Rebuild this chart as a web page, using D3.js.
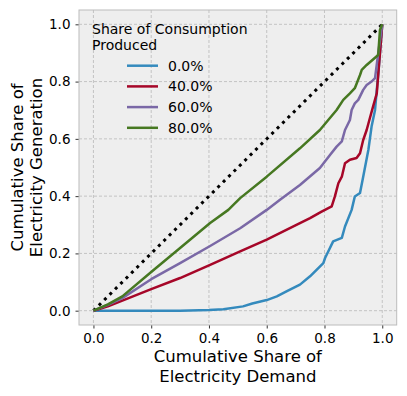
<!DOCTYPE html>
<html>
<head>
<meta charset="UTF-8">
<script src="https://d3js.org/d3.v7.min.js"></script>
<style>
  body { margin: 0; background: #fff; }
  svg { display: block; font-family: "DejaVu Sans", sans-serif; }
</style>
</head>
<body>
<div id="chart"></div>
<script>
// series: cumulative demand share (x) vs cumulative generation share (y)
const seriesNames = ["0.0%", "40.0%", "60.0%", "80.0%"];
const seriesColors = ["#348ABD", "#A60628", "#7A68A6", "#467821"];

const blueX = [0, 0.3, 0.4, 0.45, 0.518, 0.55, 0.6, 0.635, 0.67, 0.715, 0.75, 0.796, 0.802, 0.83, 0.86, 0.871, 0.894, 0.905, 0.923, 0.934, 0.952, 0.963, 0.975, 0.988, 1.0];
const blueY = [0, 0, 0.002, 0.005, 0.015, 0.025, 0.037, 0.05, 0.068, 0.091, 0.12, 0.166, 0.184, 0.242, 0.254, 0.294, 0.352, 0.399, 0.411, 0.468, 0.562, 0.643, 0.701, 0.85, 1.0];

const redX = [0, 0.05, 0.1, 0.2, 0.3, 0.404, 0.508, 0.6, 0.715, 0.75, 0.79, 0.825, 0.836, 0.848, 0.86, 0.871, 0.888, 0.911, 0.923, 0.934, 0.946, 0.957, 0.965, 0.981, 0.992, 1.0];
const redY = [0, 0.015, 0.035, 0.075, 0.114, 0.16, 0.207, 0.248, 0.306, 0.323, 0.346, 0.364, 0.399, 0.445, 0.468, 0.515, 0.527, 0.533, 0.55, 0.596, 0.631, 0.672, 0.701, 0.759, 0.899, 1.0];

const purpleX = [0, 0.05, 0.1, 0.2, 0.3, 0.404, 0.508, 0.6, 0.646, 0.715, 0.784, 0.819, 0.842, 0.86, 0.871, 0.888, 0.894, 0.905, 0.917, 0.934, 0.946, 0.963, 0.975, 0.986, 1.0];
const purpleY = [0, 0.02, 0.044, 0.11, 0.166, 0.226, 0.288, 0.352, 0.387, 0.439, 0.498, 0.544, 0.573, 0.591, 0.631, 0.666, 0.701, 0.724, 0.736, 0.771, 0.788, 0.8, 0.812, 0.899, 1.0];

const greenX = [0, 0.05, 0.1, 0.2, 0.3, 0.404, 0.467, 0.508, 0.6, 0.715, 0.784, 0.842, 0.865, 0.888, 0.905, 0.923, 0.929, 0.946, 0.986, 0.992, 1.0];
const greenY = [0, 0.022, 0.05, 0.135, 0.219, 0.306, 0.352, 0.393, 0.468, 0.567, 0.631, 0.701, 0.736, 0.759, 0.777, 0.823, 0.841, 0.858, 0.893, 0.98, 1.0];

const diagonal = [0, 1];
const tickValues = [0, 0.2, 0.4, 0.6, 0.8, 1.0];

const seriesX = [blueX, redX, purpleX, greenX];
const seriesY = [blueY, redY, purpleY, greenY];

const width = 407, height = 396;
const margin = { left: 79, top: 10, right: 10.3, bottom: 71 };

const svg = d3.select("#chart").append("svg")
  .attr("width", width)
  .attr("height", height);

const x = d3.scaleLinear().domain([-0.05, 1.05]).range([margin.left, width - margin.right]);
const y = d3.scaleLinear().domain([-0.05, 1.05]).range([height - margin.bottom, margin.top]);

// plot background
svg.append("rect")
  .attr("x", margin.left).attr("y", margin.top)
  .attr("width", x.range()[1] - x.range()[0])
  .attr("height", y.range()[0] - y.range()[1])
  .attr("fill", "#eeeeee");

// grid
const grid = svg.append("g");
tickValues.forEach(t => {
  grid.append("line")
    .attr("x1", x(t)).attr("x2", x(t))
    .attr("y1", y.range()[1]).attr("y2", y.range()[0]);
  grid.append("line")
    .attr("y1", y(t)).attr("y2", y(t))
    .attr("x1", x.range()[0]).attr("x2", x.range()[1]);
});
grid.selectAll("line")
  .attr("stroke", "#b2b2b2")
  .attr("stroke-width", 0.7)
  .attr("stroke-dasharray", "3,2");

// axes
const xAxis = svg.append("g")
  .attr("transform", `translate(0,${y.range()[0]})`)
  .call(d3.axisBottom(x).tickValues(tickValues).tickFormat(d3.format(".1f")).tickSize(3.5).tickPadding(5));
const yAxis = svg.append("g")
  .attr("transform", `translate(${x.range()[0]},0)`)
  .call(d3.axisLeft(y).tickValues(tickValues).tickFormat(d3.format(".1f")).tickSize(3.5).tickPadding(5));

[xAxis, yAxis].forEach(a => {
  a.select(".domain").remove();
  a.selectAll(".tick line").attr("stroke", "#000").attr("stroke-width", 0.8);
  a.selectAll(".tick text")
    .attr("fill", "#000")
    .style("font-family", "DejaVu Sans")
    .style("font-size", "13.5px");
});

// frame
svg.append("rect")
  .attr("x", margin.left).attr("y", margin.top)
  .attr("width", x.range()[1] - x.range()[0])
  .attr("height", y.range()[0] - y.range()[1])
  .attr("fill", "none")
  .attr("stroke", "#bcbcbc")
  .attr("stroke-width", 1);

// diagonal reference
svg.append("line")
  .attr("x1", x(diagonal[0])).attr("y1", y(diagonal[0]))
  .attr("x2", x(diagonal[1])).attr("y2", y(diagonal[1]))
  .attr("stroke", "#000")
  .attr("stroke-width", 3)
  .attr("stroke-dasharray", "3,4.6");

const line = d3.line().x(d => x(d[0])).y(d => y(d[1]));

seriesNames.forEach((name, i) => {
  const pts = seriesX[i].map((v, j) => [v, seriesY[i][j]]);
  svg.append("path")
    .datum(pts)
    .attr("d", line)
    .attr("fill", "none")
    .attr("stroke", seriesColors[i])
    .attr("stroke-width", 2.5)
    .attr("stroke-linejoin", "round");
});

// legend
const legend = svg.append("g").style("font-size", "14px");
legend.append("text").attr("x", 92).attr("y", 34).text("Share of Consumption");
legend.append("text").attr("x", 92).attr("y", 50).text("Produced");
seriesNames.forEach((name, i) => {
  const cy = 65.7 + i * 20.7;
  legend.append("line")
    .attr("x1", 127).attr("x2", 158)
    .attr("y1", cy).attr("y2", cy)
    .attr("stroke", seriesColors[i])
    .attr("stroke-width", 2.5);
  legend.append("text")
    .attr("x", 168).attr("y", cy)
    .attr("dy", "0.36em")
    .text(name);
});

// axis labels
const cx = (x.range()[0] + x.range()[1]) / 2;
svg.append("text").attr("x", cx).attr("y", 362).attr("text-anchor", "middle")
  .style("font-size", "16.5px").text("Cumulative Share of");
svg.append("text").attr("x", cx).attr("y", 382).attr("text-anchor", "middle")
  .style("font-size", "16.5px").text("Electricity Demand");

const cyAx = (y.range()[0] + y.range()[1]) / 2;
svg.append("text").attr("transform", `translate(23,${cyAx}) rotate(-90)`).attr("text-anchor", "middle")
  .style("font-size", "16.5px").text("Cumulative Share of");
svg.append("text").attr("transform", `translate(42,${cyAx}) rotate(-90)`).attr("text-anchor", "middle")
  .style("font-size", "16.5px").text("Electricity Generation");
</script>
</body>
</html>
